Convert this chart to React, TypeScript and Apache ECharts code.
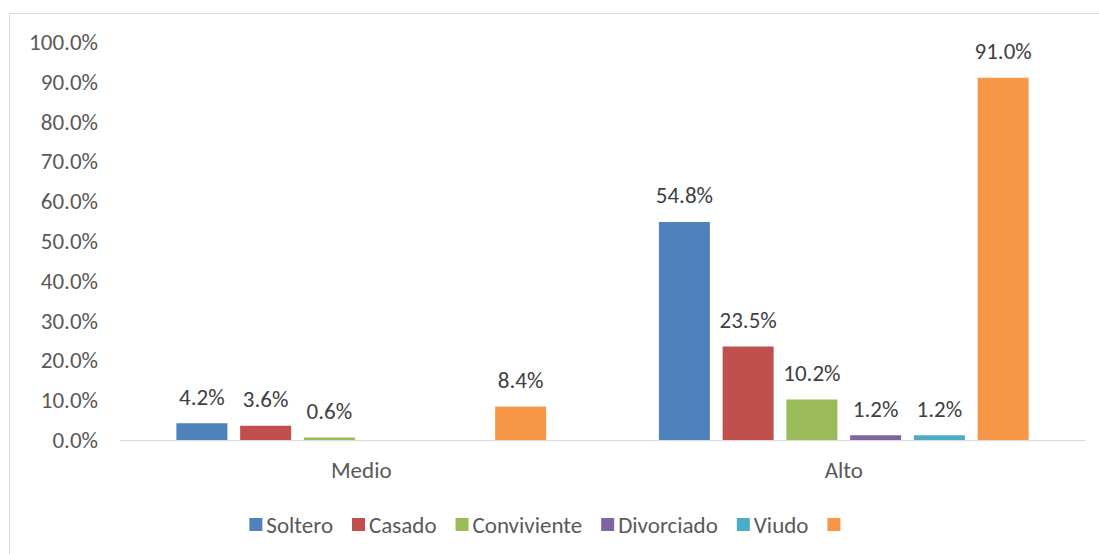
import React, { useEffect, useRef } from "react";
import * as echarts from "echarts";

const categories = ["Medio", "Alto"];
const seriesNames = ["Soltero", "Casado", "Conviviente", "Divorciado", "Viudo", " "];
const soltero = [4.2, 54.8];
const casado = [3.6, 23.5];
const conviviente = [0.6, 10.2];
const divorciado = [0, 1.2];
const viudo = [0, 1.2];
const otro = [8.4, 91.0];
const colors = ["#4F81BD", "#C0504D", "#9BBB59", "#8064A2", "#4BACC6", "#F79646"];

const FONT = "Carlito, Calibri, Lato, sans-serif";
const FS = 23;

export default function App() {
  const ref = useRef<HTMLDivElement>(null);
  useEffect(() => {
    if (!ref.current) return;
    const chart = echarts.init(ref.current, null, { renderer: "svg" });
    const values = [soltero, casado, conviviente, divorciado, viudo, otro];
    chart.setOption({
      animation: false,
      textStyle: { fontFamily: FONT },
      graphic: [
        {
          type: "rect",
          shape: { x: 9.5, y: 13.5, width: 1100, height: 560 },
          style: { fill: "none", stroke: "#d9d9d9", lineWidth: 1 },
          silent: true,
        },
      ],
      grid: { left: 120, right: 14, top: 42, bottom: 114, containLabel: false },
      legend: {
        data: seriesNames,
        top: 508,
        left: "center",
        itemWidth: 13,
        itemHeight: 13,
        itemGap: 19,
        icon: "rect",
        textStyle: { color: "#595959", fontSize: FS, fontFamily: FONT, padding: [0, 0, 0, -1] },
      },
      xAxis: {
        type: "category",
        data: categories,
        axisLine: { lineStyle: { color: "#d9d9d9", width: 1 } },
        axisTick: { show: false },
        axisLabel: { color: "#595959", fontSize: FS, margin: 18, fontFamily: FONT },
      },
      yAxis: {
        type: "value",
        min: 0,
        max: 100,
        interval: 10,
        axisLine: { show: false },
        axisTick: { show: false },
        splitLine: { show: false },
        axisLabel: {
          color: "#595959",
          fontSize: FS,
          margin: 22,
          fontFamily: FONT,
          formatter: (v: number) => v.toFixed(1) + "%",
        },
      },
      series: seriesNames.map((name, i) => ({
        name,
        type: "bar",
        data: values[i],
        barWidth: 51,
        barGap: "25%",
        itemStyle: { color: colors[i] },
        label: {
          show: true,
          position: "top",
          distance: 15,
          color: "#404040",
          fontSize: FS,
          fontFamily: FONT,
          formatter: (p: any) => (p.value === 0 ? "" : Number(p.value).toFixed(1) + "%"),
        },
      })),
    });
    return () => chart.dispose();
  }, []);
  return (
    <div
      ref={ref}
      style={{ position: "fixed", left: 0, top: 0, width: 1099, height: 554, background: "#fff" }}
    />
  );
}
